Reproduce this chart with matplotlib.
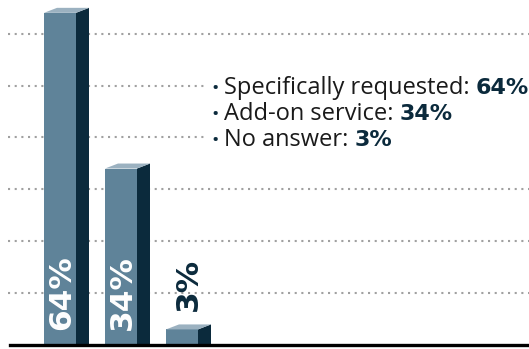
import matplotlib.pyplot as plt
from matplotlib.patches import Polygon, Rectangle

# data
categories = ['Specifically requested', 'Add-on service', 'No answer']
values = [64, 34, 3]
labels = ['64%', '34%', '3%']
gridlines = [10, 20, 30, 40, 50, 60]

front_col = '#5f8399'
side_col = '#0b2a3c'
top_col = '#9bb1c0'
navy = '#0b2a3c'

W, H = 529, 349
fig = plt.figure(figsize=(W / 100, H / 100), dpi=100)
ax = fig.add_axes([0, 0, 1, 1])
ax.set_xlim(-60 / 61, (W - 60) / 61)
ax.set_ylim(-4 / 5.19, (H - 4) / 5.19)
ax.axis('off')

bw = 32 / 61     # front face width
dx = 13 / 61     # depth offset x
dy = 5 / 5.19    # depth offset y

ax.hlines(gridlines, -52 / 61, (W - 60) / 61, colors='#a0a0a0', lw=1.5,
          linestyles=(0, (1, 2.2)), zorder=1)

xs = range(len(values))
ax.bar(xs, values, width=bw, color=front_col, zorder=2)
for x, v in zip(xs, values):
    l, r = x - bw / 2, x + bw / 2
    ax.add_patch(Polygon([(r, 0), (r + dx, 0), (r + dx, v + dy), (r, v)],
                         closed=True, color=side_col, lw=0, zorder=2))
    ax.add_patch(Polygon([(l, v), (r, v), (r + dx, v + dy), (l + dx, v + dy)],
                         closed=True, color=top_col, lw=0, zorder=2))

# value labels
for x, v, lab in zip(xs, values, labels):
    if v > 20:
        ax.text(x + 0.02, 2.8, lab, rotation=90, ha='center', va='bottom', color='white',
                fontsize=22.5, fontweight='bold', family='DejaVu Sans', zorder=3)
    else:
        ax.text(x + 0.11, v + 3.6, lab, rotation=90, ha='center', va='bottom', color=navy,
                fontsize=22.5, fontweight='bold', family='DejaVu Sans', zorder=3)

ax.axhline(0, xmin=10 / W, xmax=1, color='black', lw=2.4, zorder=4)

# white panel behind legend text
ax.add_patch(Rectangle((205 / W, 1 - 152 / H), 1, 80 / H, transform=ax.transAxes,
                       color='white', lw=0, zorder=5))

# legend text
y0 = 94
texts = []
for i, cat in enumerate(categories):
    yp = 1 - (y0 + i * 26) / H
    ax.text(211 / W, yp, '•', color=navy, fontsize=14, ha='left', va='baseline',
            family='Open Sans', transform=ax.transAxes, zorder=6)
    t = ax.text(224 / W, yp, cat + ': ', color='#1a1a1a', fontsize=17,
                ha='left', va='baseline', family='Open Sans', transform=ax.transAxes,
                zorder=6)
    texts.append((t, yp))

fig.canvas.draw()
for (t, yp), lab in zip(texts, labels):
    bb = t.get_window_extent()
    ax.text(bb.x1 / fig.bbox.width, yp, lab, color=navy, fontsize=16, fontweight='bold',
            family='DejaVu Sans', ha='left', va='baseline', transform=ax.transAxes, zorder=6)

fig.savefig('out.png', dpi=100)
